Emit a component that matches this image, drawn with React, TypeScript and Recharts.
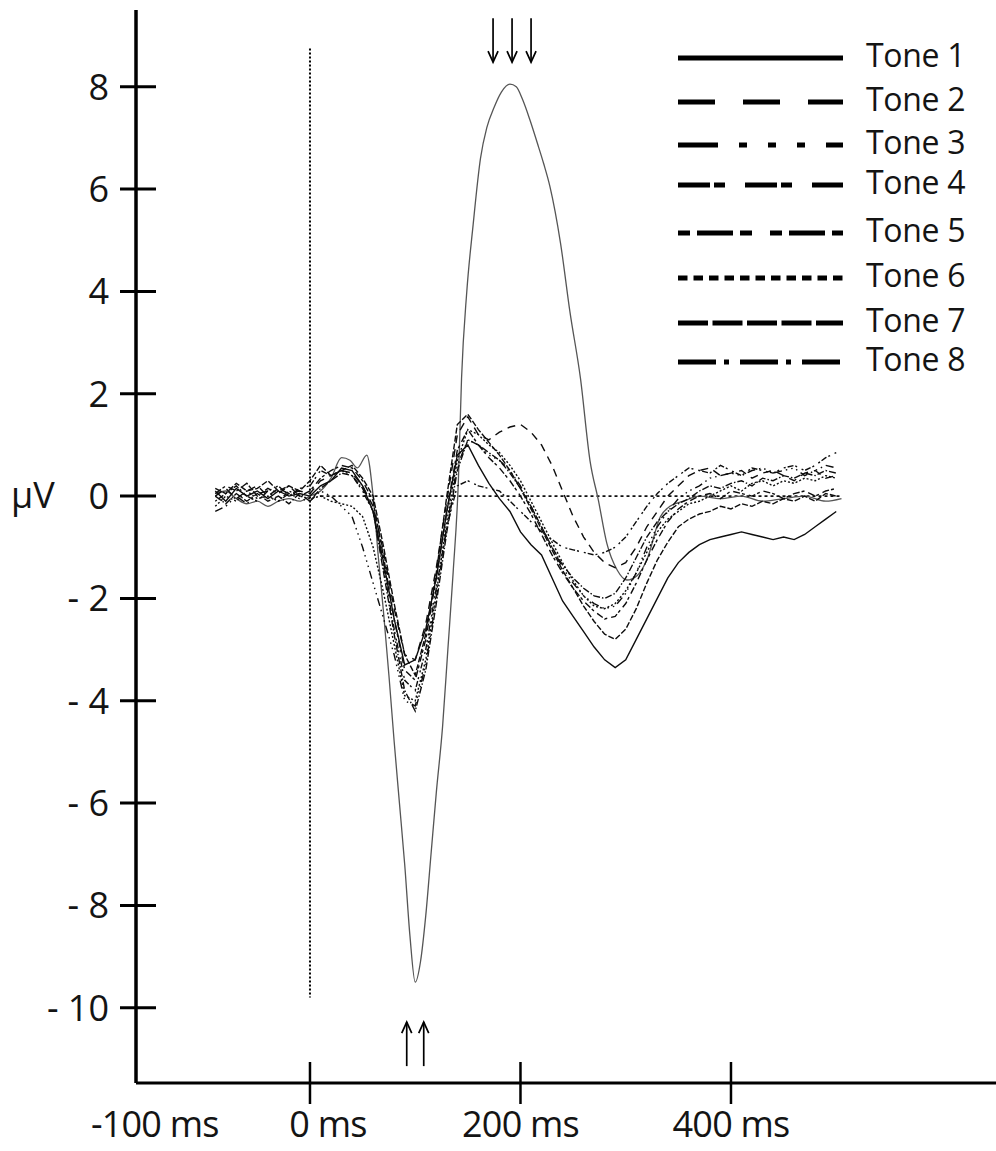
import React from 'react';
import { LineChart, Line, XAxis, YAxis, ReferenceLine, ReferenceDot, Legend } from 'recharts';

// ---------- data ----------
const times = [
  -90, -80, -70, -60, -50, -40, -30, -20, -10, 0,
  10, 20, 30, 40, 50, 60, 70, 80, 90, 100,
  110, 120, 130, 140, 150, 160, 170, 180, 190, 200,
  210, 220, 230, 240, 250, 260, 270, 280, 290, 300,
  310, 320, 330, 340, 350, 360, 370, 380, 390, 400,
  410, 420, 430, 440, 450, 460, 470, 480, 490, 500,
];

const tone1 = [
  0.1, -0.1, 0.15, 0.0, 0.1, -0.05, 0.1, 0.0, 0.05, 0.0,
  0.2, 0.3, 0.55, 0.5, 0.2, -0.3, -1.3, -2.4, -3.3, -3.2,
  -2.6, -1.6, -0.3, 0.8, 1.0, 0.6, 0.25, -0.05, -0.3, -0.7,
  -0.95, -1.15, -1.6, -2.05, -2.35, -2.65, -2.95, -3.2, -3.35, -3.2,
  -2.8, -2.4, -2.0, -1.6, -1.3, -1.1, -0.95, -0.85, -0.8, -0.75,
  -0.7, -0.75, -0.8, -0.85, -0.8, -0.85, -0.75, -0.6, -0.45, -0.3,
];
const tone2 = [
  0.0, 0.15, -0.05, 0.1, 0.2, 0.0, 0.15, 0.05, 0.1, 0.05,
  0.3, 0.4, 0.5, 0.45, 0.2, -0.2, -1.1, -2.2, -3.1, -3.2,
  -2.5, -1.4, -0.1, 1.2, 1.55, 1.2, 1.1, 1.25, 1.35, 1.4,
  1.25, 1.0, 0.6, 0.1, -0.4, -0.8, -1.1, -1.3, -1.4, -1.3,
  -1.0, -0.6, -0.3, 0.0, 0.2, 0.4, 0.5, 0.55, 0.4, 0.45,
  0.5, 0.35, 0.45, 0.5, 0.4, 0.3, 0.45, 0.5, 0.35, 0.4,
];
const tone3 = [
  -0.3, -0.2, 0.0, -0.15, 0.05, 0.1, -0.1, 0.05, -0.05, -0.1,
  0.1, 0.0, -0.2, -0.4, -1.0, -1.7, -2.4, -3.1, -4.0, -4.1,
  -3.3, -2.0, -0.6, 0.6, 1.1, 1.0, 0.8, 0.7, 0.5, 0.2,
  -0.2, -0.6, -1.0, -1.4, -1.7, -1.95, -2.1, -2.2, -2.15, -1.9,
  -1.5, -1.0, -0.6, -0.3, -0.05, 0.1, 0.2, 0.35, 0.4, 0.45,
  0.4, 0.5, 0.55, 0.45, 0.5, 0.55, 0.4, 0.5, 0.6, 0.55,
];
const tone4 = [
  0.05, 0.2, 0.1, 0.25, 0.0, 0.15, 0.05, 0.2, 0.0, 0.1,
  0.35, 0.5, 0.6, 0.55, 0.3, -0.1, -1.2, -2.4, -3.4, -3.6,
  -2.8, -1.6, -0.3, 0.9, 1.3, 1.0, 0.75, 0.55, 0.3, 0.0,
  -0.35, -0.75, -1.15, -1.5, -1.8, -2.05, -2.25, -2.4, -2.35, -2.1,
  -1.7, -1.25, -0.85, -0.5, -0.25, -0.1, 0.0, 0.05, -0.05, 0.1,
  0.05, 0.0, 0.1, 0.05, -0.05, 0.05, 0.1, 0.0, 0.1, 0.15,
];
const tone5 = [
  -0.1, 0.05, 0.2, 0.0, -0.1, 0.1, 0.2, 0.0, 0.15, 0.2,
  0.5, 0.4, 0.5, 0.4, 0.1, -0.3, -1.4, -2.6, -3.6, -3.8,
  -3.0, -1.8, -0.6, 0.2, 0.3, 0.2, 0.15, 0.1, -0.1, -0.3,
  -0.5, -0.7, -0.85, -1.0, -1.05, -1.1, -1.15, -1.1, -1.0, -0.8,
  -0.5, -0.2, 0.05, 0.25, 0.4, 0.55, 0.5, 0.45, 0.6, 0.5,
  0.4, 0.55, 0.5, 0.45, 0.55, 0.6, 0.5, 0.6, 0.75, 0.85,
];
const tone6 = [
  -0.2, 0.0, -0.1, 0.1, -0.05, 0.0, -0.1, 0.1, 0.0, -0.05,
  0.0, -0.1, -0.15, -0.2, -0.4, -1.0, -1.9, -2.9, -3.9, -4.0,
  -3.2, -1.9, -0.5, 0.7, 1.3, 1.2, 1.0, 0.85, 0.6, 0.3,
  -0.1, -0.5, -0.9, -1.3, -1.65, -1.95, -2.15, -2.2, -2.1, -1.85,
  -1.5, -1.1, -0.7, -0.45, -0.3, -0.15, -0.1, 0.0, 0.1, 0.2,
  0.1, 0.25, 0.3, 0.2, 0.3, 0.25, 0.35, 0.3, 0.4, 0.35,
];
const tone7 = [
  0.15, 0.05, 0.25, 0.1, 0.15, 0.3, 0.1, 0.2, 0.1, 0.3,
  0.6, 0.4, 0.5, 0.6, 0.35, 0.0, -1.0, -2.1, -3.1, -3.5,
  -2.7, -1.5, 0.0, 1.4, 1.6, 1.3, 1.05, 0.8, 0.5, 0.15,
  -0.25, -0.65, -1.05, -1.45, -1.8, -2.15, -2.45, -2.7, -2.8, -2.6,
  -2.2, -1.7, -1.25, -0.9, -0.6, -0.45, -0.35, -0.3, -0.2, -0.25,
  -0.15, -0.2, -0.1, -0.15, -0.05, -0.1, 0.0, -0.1, 0.05, 0.0,
];
const tone8 = [
  0.0, -0.15, 0.05, -0.1, 0.05, -0.1, 0.0, -0.15, 0.05, -0.1,
  0.15, 0.3, 0.45, 0.4, 0.15, -0.3, -1.5, -2.7, -3.8, -4.2,
  -3.4, -2.1, -0.7, 0.5, 1.1, 1.0, 0.85, 0.7, 0.45, 0.15,
  -0.2, -0.6, -1.0, -1.35, -1.6, -1.8, -1.95, -2.0, -1.9, -1.6,
  -1.2, -0.8, -0.5, -0.3, -0.15, -0.05, 0.1, 0.2, 0.15, 0.25,
  0.3, 0.2, 0.35, 0.3, 0.4, 0.35, 0.45, 0.4, 0.5, 0.45,
];

// thin grey curve (large deflection), sampled irregularly
const diffTimes = [
  -90, -80, -70, -60, -50, -40, -30, -20, -10, 0,
  10, 20, 30, 38, 45, 54, 60, 65, 70, 75,
  80, 85, 90, 95, 100, 105, 110, 115, 120, 126,
  131, 136, 141, 144, 149, 155, 162, 168, 175, 182,
  190, 196, 202, 209, 216, 222, 228, 238, 247, 257,
  266, 274, 282, 292, 301, 311, 320, 333, 342, 355,
  370, 390, 410, 430, 450, 470, 490, 505,
];
const diffValues = [
  0.05, 0.1, -0.05, -0.15, -0.1, -0.2, -0.1, -0.05, -0.1, 0.0,
  0.1, 0.35, 0.75, 0.7, 0.55, 0.8, 0.0, -1.2, -2.3, -3.5,
  -4.8, -6.0, -7.2, -8.6, -9.5, -9.1, -8.2, -7.0, -5.8, -4.5,
  -3.0, -1.5, 0.3, 2.3, 4.0, 5.3, 6.6, 7.2, 7.6, 7.9,
  8.05, 8.0, 7.75, 7.35, 6.9, 6.5, 6.05, 4.95, 3.6, 2.3,
  0.7, -0.08, -0.92, -1.45, -1.64, -1.55, -1.25, -0.4, -0.2, -0.1,
  0.0, -0.05, 0.0, -0.1, -0.05, 0.0, -0.1, -0.05,
];

const toneNames = ['Tone 1', 'Tone 2', 'Tone 3', 'Tone 4', 'Tone 5', 'Tone 6', 'Tone 7', 'Tone 8'];
const toneKeys = ['tone1', 'tone2', 'tone3', 'tone4', 'tone5', 'tone6', 'tone7', 'tone8'];
const toneSeries = [tone1, tone2, tone3, tone4, tone5, tone6, tone7, tone8];

const yTicks = [-10, -8, -6, -4, -2, 0, 2, 4, 6, 8];
const xTicks = [-100, 0, 200, 400];
const xTickLabels = ['-100 ms', '0 ms', '200 ms', '400 ms'];

const rows = times.map((t, i) => {
  const r: Record<string, number> = { t };
  toneKeys.forEach((k, j) => { r[k] = toneSeries[j][i]; });
  return r;
});
const diffRows = diffTimes.map((t, i) => ({ t, diff: diffValues[i] }));

// ---------- styles ----------
const FONT = '"Open Sans", "DejaVu Sans", sans-serif';
const INK = '#141414';
const plotDash = ['', '8 6', '8 4 1.5 4 1.5 4 1.5 4', '7 2 3 4', '2 2 6 2 2 5', '2 2', '6 2', '7 2 1.5 2'];
const legendDash = ['', '37 28', '40 21 8 21 8 21 8 21', '32 4 11 20', '12 7 36 7 12 18', '9.5 6', '30 4.5', '38 8 5 11'];
const legendRowY = [38, 82, 125, 165, 213, 258, 303, 342];
const labelShift: Record<number, number> = { [-100]: -50, 0: 18 };

const YTick = (props: any) => {
  const { x, y, payload } = props;
  const v = payload.value as number;
  const label = v < 0 ? `- ${-v}` : `${v}`;
  return (
    <g>
      <line x1={x - 16} x2={x + 20} y1={y} y2={y} stroke="#000" strokeWidth={3} />
      <text x={x - 27} y={y + 13} textAnchor="end" fontFamily={FONT} fontSize={36} fill={INK}>
        {label}
      </text>
    </g>
  );
};

const XTick = (props: any) => {
  const { x, y, payload } = props;
  const v = payload.value as number;
  const idx = xTicks.indexOf(v);
  const shift = labelShift[v] ?? 0;
  return (
    <g>
      {v !== -100 && <line x1={x} x2={x} y1={y - 21} y2={y + 21} stroke="#000" strokeWidth={2.5} />}
      <text x={x + shift} y={y + 54} textAnchor="middle" fontFamily={FONT} fontSize={36} fill={INK}
        letterSpacing={-0.8}>
        {xTickLabels[idx]}
      </text>
    </g>
  );
};

const renderLegend = (props: any) => {
  const payload = (props.payload || []).filter((p: any) => toneKeys.includes(p.dataKey));
  return (
    <svg width={336} height={370}>
      {payload.map((p: any) => {
        const i = toneKeys.indexOf(p.dataKey);
        const y = legendRowY[i];
        return (
          <g key={p.dataKey}>
            <line x1={18} x2={183} y1={y} y2={y} stroke="#000" strokeWidth={5}
              strokeDasharray={legendDash[i] || undefined} />
            <text x={206} y={y + 9} fontFamily={FONT} fontSize={32} fill={INK} letterSpacing={-0.3}>
              {toneNames[i]}
            </text>
          </g>
        );
      })}
    </svg>
  );
};

const Arrow = ({ x, y, dir }: { x: number; y: number; dir: 'down' | 'up' }) => {
  const half = 22;
  if (dir === 'down') {
    return (
      <g fill="none" stroke="#000" strokeWidth={1.7}>
        <line x1={x} x2={x} y1={y - half} y2={y + half} />
        <path d={`M ${x - 5} ${y + half - 11} L ${x} ${y + half} L ${x + 5} ${y + half - 11}`} />
      </g>
    );
  }
  return (
    <g fill="none" stroke="#000" strokeWidth={1.7}>
      <line x1={x} x2={x} y1={y - half} y2={y + half} />
      <path d={`M ${x - 5} ${y - half + 11} L ${x} ${y - half} L ${x + 5} ${y - half + 11}`} />
    </g>
  );
};

const DownArrows = (props: any) => {
  const { cx, cy } = props;
  return (
    <g>
      {[-19, 0, 19].map((d) => <Arrow key={d} x={cx + d} y={cy} dir="down" />)}
    </g>
  );
};
const UpArrows = (props: any) => {
  const { cx, cy } = props;
  return (
    <g>
      {[-8.5, 8.5].map((d) => <Arrow key={d} x={cx + d} y={cy} dir="up" />)}
    </g>
  );
};

const YLabel = (props: any) => {
  const { viewBox } = props;
  return (
    <text x={11} y={(viewBox?.y ?? 0) + 12} fontFamily={FONT} fontSize={36} fill={INK}>μV</text>
  );
};

export default function App() {
  return (
    <div style={{ position: 'absolute', left: 0, top: 0, width: 996, height: 1151, background: '#fff' }}>
      <LineChart width={996} height={1151} data={rows} margin={{ top: 10, right: 0, left: 0, bottom: 0 }}>
        <XAxis
          type="number"
          dataKey="t"
          domain={[-165.3, 651.8]}
          allowDataOverflow
          ticks={xTicks}
          interval={0}
          height={68}
          tickSize={0}
          tickMargin={0}
          tickLine={false}
          axisLine={{ stroke: '#000', strokeWidth: 3 }}
          tick={<XTick />}
        />
        <YAxis
          type="number"
          domain={[-11.47, 9.5]}
          allowDataOverflow
          ticks={yTicks}
          interval={0}
          width={136}
          tickSize={0}
          tickMargin={0}
          tickLine={false}
          axisLine={{ stroke: '#000', strokeWidth: 3.5 }}
          tick={<YTick />}
        />
        <ReferenceLine
          segment={[{ x: 0, y: 8.75 }, { x: 0, y: -9.8 }]}
          stroke="#000"
          strokeWidth={2}
          strokeDasharray="2 2"
        />
        <ReferenceLine
          segment={[{ x: 10, y: 0 }, { x: 505, y: 0 }]}
          stroke="#111"
          strokeWidth={1.6}
          strokeDasharray="3 3"
          label={<YLabel />}
        />
        <Line
          data={diffRows}
          dataKey="diff"
          type="monotone"
          stroke="#555"
          strokeWidth={1.3}
          dot={false}
          legendType="none"
          isAnimationActive={false}
        />
        {toneKeys.map((k, i) => (
          <Line
            key={k}
            dataKey={k}
            name={toneNames[i]}
            type="linear"
            stroke="#0d0d0d"
            strokeWidth={1.4}
            strokeDasharray={plotDash[i] || undefined}
            dot={false}
            isAnimationActive={false}
          />
        ))}
        <ReferenceDot x={192} y={8.91} r={0} shape={<DownArrows />} />
        <ReferenceDot x={100} y={-10.71} r={0} shape={<UpArrows />} />
        <Legend
          layout="horizontal"
          verticalAlign="middle"
          align="center"
          wrapperStyle={{ left: 660, top: 20, width: 336, height: 370 }}
          content={renderLegend}
        />
      </LineChart>
    </div>
  );
}
